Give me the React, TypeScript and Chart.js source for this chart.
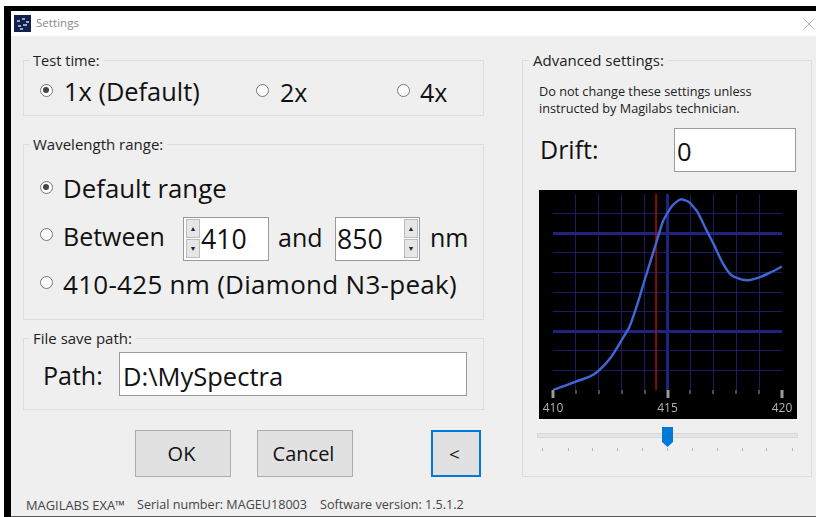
import React, { useEffect, useRef } from "react";
import { Chart, registerables } from "chart.js";

Chart.register(...registerables);

const wavelengths = [410, 411, 411.6, 412, 412.55, 413, 413.33, 413.65, 414, 414.5, 414.8, 415.2, 415.57, 415.92, 416.3, 416.7, 417, 417.42, 417.78, 418.18, 418.54, 418.98, 419.5, 420];
const intensities = [0, 0.43, 0.68, 0.99, 1.7, 2.55, 3.2, 4.25, 5.6, 7.48, 8.6, 9.39, 9.73, 9.6, 9.1, 8.16, 7.48, 6.46, 5.87, 5.66, 5.6, 5.73, 6, 6.3];
const markerWavelength = [414.5, 414.5];
const markerRange = [0, 10];
const labelledTicks = [410, 415, 420];
const boldWavelength = 415;
const boldLevels = [3, 8];

const FONT = '"Open Sans", "Noto Sans", sans-serif';

const tickMarks = {
  id: "tickMarks",
  afterDatasetsDraw(chart: any) {
    const { ctx, scales, chartArea } = chart;
    ctx.save();
    ctx.fillStyle = "#9a9a9a";
    for (let v = 410; v <= 420; v++) {
      const px = Math.round(scales.x.getPixelForValue(v));
      const big = labelledTicks.includes(v);
      ctx.fillRect(px - (big ? 1.5 : 0.5), chartArea.bottom, big ? 3 : 1, big ? 8 : 4);
    }
    ctx.restore();
  },
};

function T({ x, y, size, color = "#111", ls = 0, children }: any) {
  return (
    <div style={{ position: "absolute", left: x, top: y, fontSize: size, letterSpacing: ls, color, lineHeight: 1, transform: "translateY(-50%)", whiteSpace: "nowrap", fontFamily: FONT }}>
      {children}
    </div>
  );
}

function Box({ x, y, w, h, style, children }: any) {
  return (
    <div style={{ position: "absolute", left: x, top: y, width: w, height: h, boxSizing: "border-box", ...style }}>{children}</div>
  );
}

function Group({ x, y, w, h, label, size = 15, dx = 6 }: any) {
  return (
    <>
      <Box x={x} y={y} w={w} h={h} style={{ border: "1px solid #dcdcdc" }} />
      <div style={{ position: "absolute", left: x + dx, top: y - 9, height: 18, padding: "0 4px", background: "#efefef", fontSize: size, lineHeight: "18px", color: "#222", fontFamily: FONT, whiteSpace: "nowrap" }}>{label}</div>
    </>
  );
}

function Radio({ x, y, on }: any) {
  return (
    <Box x={x - 6.5} y={y - 6.5} w={13} h={13} style={{ borderRadius: "50%", border: "1.5px solid #777", background: "#fff" }}>
      {on && <div style={{ position: "absolute", left: 2, top: 2, width: 6, height: 6, borderRadius: "50%", background: "#444" }} />}
    </Box>
  );
}

function Button({ x, y, w, h, label, focus }: any) {
  return (
    <Box x={x} y={y} w={w} h={h} style={{ background: "#e1e1e1", border: focus ? "2px solid #0078d7" : "1px solid #adadad", display: "flex", alignItems: "center", justifyContent: "center", fontSize: focus ? 19 : 20, color: "#111", fontFamily: FONT, paddingRight: 3 }}>
      {label}
    </Box>
  );
}

function Spin({ x }: any) {
  const btn: any = { position: "absolute", left: 0, width: 14, height: 19, background: "#e6e6e6", border: "1px solid #bbb", boxSizing: "border-box", fontSize: 7, color: "#222", textAlign: "center", lineHeight: "17px" };
  return (
    <div style={{ position: "absolute", left: x, top: 219, width: 14, height: 40 }}>
      <div style={{ ...btn, top: 0 }}>▲</div>
      <div style={{ ...btn, top: 20 }}>▼</div>
    </div>
  );
}

const inputStyle = { background: "#fff", border: "1px solid #9a9a9a" };
const sliderTicks = [37, 113, 186, 262, 335, 411, 487, 560, 636, 709, 786];

export default function App() {
  const ref = useRef<HTMLCanvasElement>(null);

  useEffect(() => {
    const chart = new Chart(ref.current!, {
      type: "line",
      data: {
        datasets: [
          {
            data: wavelengths.map((w, i) => ({ x: w, y: intensities[i] })),
            borderColor: "#3f68d6",
            borderWidth: 2.4,
            pointRadius: 0,
            tension: 0.2,
            order: 1,
          },
          {
            data: markerWavelength.map((w, i) => ({ x: w, y: markerRange[i] })),
            borderColor: "#a5101c",
            borderWidth: 1.5,
            pointRadius: 0,
            order: 2,
          },
        ],
      },
      options: {
        animation: false,
        responsive: false,
        layout: { padding: { left: 14, right: 15, top: 4, bottom: 0 } },
        plugins: { legend: { display: false }, tooltip: { enabled: false } },
        scales: {
          x: {
            type: "linear",
            min: 410,
            max: 420,
            afterFit: (s: any) => { s.height = 29; s.paddingLeft = 0; s.paddingRight = 0; },
            afterBuildTicks: (s: any) => { s.ticks = Array.from({ length: 11 }, (_, i) => ({ value: 410 + i })); },
            border: { display: false },
            grid: {
              drawTicks: false,
              color: (c: any) => (c.tick.value === 410 || c.tick.value === 420 ? "rgba(0,0,0,0)" : c.tick.value === boldWavelength ? "#1f2280" : "#1a1a66"),
              lineWidth: (c: any) => (c.tick.value === boldWavelength ? 3 : 1),
            },
            ticks: {
              autoSkip: false,
              maxRotation: 0,
              padding: 11,
              color: "#b4b4b4",
              font: { family: FONT, size: 12 },
              callback: (v: any) => (labelledTicks.includes(v) ? String(v) : ""),
            },
          },
          y: {
            min: 0,
            max: 10,
            afterFit: (s: any) => { s.width = 0; },
            border: { display: false },
            grid: {
              drawTicks: false,
              color: (c: any) => (c.tick.value === 0 || c.tick.value === 10 ? "rgba(0,0,0,0)" : boldLevels.includes(c.tick.value) ? "#1f2280" : "#1a1a66"),
              lineWidth: (c: any) => (boldLevels.includes(c.tick.value) ? 3 : 1),
            },
            ticks: { display: false, stepSize: 1 },
          },
        },
      },
      plugins: [tickMarks],
    } as any);
    return () => chart.destroy();
  }, []);

  return (
    <div style={{ position: "fixed", left: 0, top: 0, width: 816, height: 517, background: "#fff", overflow: "hidden", fontFamily: FONT }}>
      <Box x={4} y={6} w={812} h={5} style={{ background: "#000" }} />
      <Box x={4} y={6} w={7} h={511} style={{ background: "#000" }} />
      <Box x={11} y={36} w={805} h={480} style={{ background: "#efefef" }} />
      <Box x={11} y={516} w={805} h={1} style={{ background: "#555" }} />

      <svg style={{ position: "absolute", left: 14, top: 15 }} width={17} height={17}>
        <rect width={17} height={17} fill="#10204f" />
        <path d="M3 6h3M8 4h3M12 7h3M4 11h3M9 10h4M6 14h3" stroke="#c8d4f0" strokeWidth={1.5} />
      </svg>
      <T x={36} y={23} size={11.6} color="#8a8a8a">Settings</T>
      <svg style={{ position: "absolute", left: 803, top: 18 }} width={12} height={12}>
        <path d="M0.5 0.5L11.5 11.5M11.5 0.5L0.5 11.5" stroke="#b5b5b5" strokeWidth={1} />
      </svg>

      <Group x={23} y={60} w={461} h={56} label="Test time:" size={14.6} />
      <Radio x={46} y={90} on />
      <T x={64} y={92} size={25.4}>1x (Default)</T>
      <Radio x={262} y={90} />
      <T x={280} y={92} size={25}>2x</T>
      <Radio x={403} y={90} />
      <T x={420} y={92} size={25}>4x</T>

      <Group x={23} y={144} w={461} h={176} label="Wavelength range:" />
      <Radio x={46} y={187} on />
      <T x={63} y={189} size={25.8}>Default range</T>
      <Radio x={46} y={234} />
      <T x={63} y={236} size={25}>Between</T>
      <Box x={183} y={217} w={86} h={44} style={inputStyle} />
      <Spin x={186} />
      <T x={201} y={239} size={26.6}>410</T>
      <T x={278} y={237} size={25}>and</T>
      <Box x={335} y={217} w={85} h={44} style={inputStyle} />
      <Spin x={404} />
      <T x={337} y={239} size={26.6}>850</T>
      <T x={430} y={237} size={25}>nm</T>
      <Radio x={46} y={282} />
      <T x={63} y={284} size={26} ls={0.28}>410-425 nm (Diamond N3-peak)</T>

      <Group x={23} y={338} w={461} h={72} label="File save path:" />
      <T x={43} y={375} size={25}>Path:</T>
      <Box x={119} y={352} w={348} h={44} style={inputStyle} />
      <T x={123} y={377} size={25.5}>D:\MySpectra</T>

      <Button x={135} y={430} w={96} h={47} label="OK" />
      <Button x={257} y={430} w={96} h={47} label="Cancel" />
      <Button x={431} y={430} w={50} h={47} label="<" focus />

      <T x={26} y={505} size={12.9} color="#444">MAGILABS EXA™</T>
      <T x={137} y={505} size={12.6} color="#444">Serial number: MAGEU18003</T>
      <T x={320} y={505} size={12.6} color="#444">Software version: 1.5.1.2</T>

      <Group x={522} y={60} w={290} h={417} label="Advanced settings:" dx={7} />
      <T x={539} y={91} size={12.7} color="#222">Do not change these settings unless</T>
      <T x={539} y={108} size={12.7} color="#222">instructed by Magilabs technician.</T>
      <T x={540} y={149} size={25}>Drift:</T>
      <Box x={674} y={128} w={122} h={44} style={inputStyle} />
      <T x={677} y={152} size={25.5}>0</T>

      <canvas ref={ref} width={258} height={229} style={{ position: "absolute", left: 539, top: 190, background: "#000", display: "block" }} />

      <Box x={537} y={433} w={261} h={5} style={{ background: "#e4e4e4", border: "1px solid #d8d8d8" }} />
      <svg style={{ position: "absolute", left: 661, top: 427 }} width={13} height={21}>
        <path d="M1 0H12V15L6.5 20L1 15Z" fill="#0078d7" />
      </svg>
      {sliderTicks.map((t) => (
        <Box key={t} x={530 + t / 3} y={448} w={1} h={3} style={{ background: "#b5b5b5" }} />
      ))}
    </div>
  );
}
